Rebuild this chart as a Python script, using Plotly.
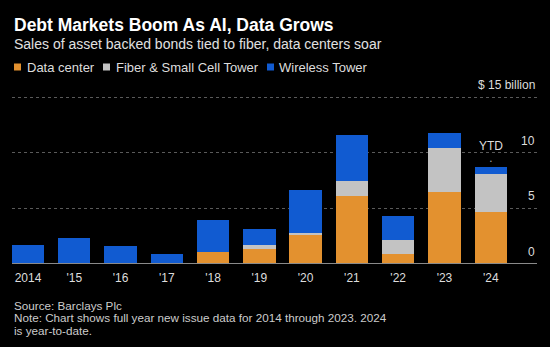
import plotly.graph_objects as go

years = ["2014", "'15", "'16", "'17", "'18", "'19", "'20", "'21", "'22", "'23", "'24"]
data_center = [0, 0, 0, 0, 1.05, 1.35, 2.58, 6.15, 0.93, 6.5, 4.65]
fiber_small_cell = [0, 0, 0, 0, 0, 0.33, 0.21, 1.35, 1.2, 3.97, 3.45]
wireless_tower = [1.71, 2.3, 1.6, 0.87, 2.95, 1.47, 3.84, 4.1, 2.22, 1.32, 0.64]
y_ticks = [0, 5, 10, 15]
y_tick_labels = ["0", "5", "10", "$ 15 billion"]
series_names = ["Data center", "Fiber & Small Cell Tower", "Wireless Tower"]

C_DC = "#e3912f"
C_FIB = "#c3c3c3"
C_WL = "#115bd1"
colors = [C_DC, C_FIB, C_WL]
FONT = "Liberation Sans, Arial, sans-serif"

W, H = 550, 347
ML, MR, MT, MB = 12, 13, 96, 83
PW, PH = W - ML - MR, H - MT - MB


def px_x(x):
    return (x - ML) / PW


def px_y(y):
    return (H - MB - y) / PH


fig = go.Figure()
for name, vals, c in zip(series_names, [data_center, fiber_small_cell, wireless_tower], colors):
    fig.add_bar(x=years, y=vals, name=name, marker_color=c, marker_line_width=0)

fig.update_layout(
    width=W, height=H,
    barmode="stack", bargap=0.3,
    paper_bgcolor="#000000", plot_bgcolor="#000000",
    margin=dict(l=ML, r=MR, t=MT, b=MB),
    showlegend=False,
    font=dict(family=FONT, color="#dddddd"),
    xaxis=dict(range=[-0.346, 11.0], showgrid=False, zeroline=False, showline=False,
               ticks="", ticklabelstandoff=5, tickfont=dict(size=12, color="#dddddd"), fixedrange=True),
    yaxis=dict(range=[0, 15.1], tickvals=y_ticks, showticklabels=False, showgrid=True,
               gridcolor="#5a5a5a", gridwidth=1, griddash="dot", zeroline=False, showline=False),
)

# baseline
fig.add_shape(type="line", xref="paper", yref="y", x0=0, x1=1, y0=0, y1=0,
              line=dict(color="#8a8a8a", width=2), layer="above")

# y tick labels above gridlines
for v, lab in zip(y_ticks, y_tick_labels):
    fig.add_annotation(xref="paper", yref="y", x=1, y=v, text=lab, showarrow=False,
                       xanchor="right", yanchor="middle", yshift=12,
                       font=dict(size=12, color="#dddddd"))

# YTD label
tot24 = data_center[-1] + fiber_small_cell[-1] + wireless_tower[-1]
fig.add_annotation(x=years[-1], y=tot24, text="YTD", showarrow=False, yanchor="middle", yshift=21,
                   font=dict(size=12, color="#dddddd"))
fig.add_annotation(x=years[-1], y=tot24, text="•", showarrow=False, yanchor="middle", yshift=6,
                   font=dict(size=5, color="#aaaaaa"))

# Title, subtitle
fig.add_annotation(xref="paper", yref="paper", x=0, y=px_y(25), text="<b>Debt Markets Boom As AI, Data Grows</b>",
                   showarrow=False, xanchor="left", yanchor="middle", font=dict(size=17.5, color="#ffffff"))
fig.add_annotation(xref="paper", yref="paper", x=0, y=px_y(43.5),
                   text="Sales of asset backed bonds tied to fiber, data centers soar",
                   showarrow=False, xanchor="left", yanchor="middle", font=dict(size=14, color="#e0e0e0"))

# Legend (custom)
sq_x = [14, 103, 267]
txt_x = [25, 114, 277]
for name, c, sx, tx in zip(series_names, colors, sq_x, txt_x):
    fig.add_shape(type="rect", xref="paper", yref="paper", x0=px_x(sx), x1=px_x(sx + 7),
                  y0=px_y(70.5), y1=px_y(63.5), fillcolor=c, line_width=0)
    fig.add_annotation(xref="paper", yref="paper", x=px_x(tx), y=px_y(67), text=name,
                       showarrow=False, xanchor="left", yanchor="middle",
                       font=dict(size=13, color="#dddddd"))

# Footer
footer_lines = ["Source: Barclays Plc",
                "Note: Chart shows full year new issue data for 2014 through 2023. 2024",
                "is year-to-date."]
for line, yy in zip(footer_lines, [305, 317.5, 330]):
    fig.add_annotation(xref="paper", yref="paper", x=0, y=px_y(yy), text=line,
                       showarrow=False, xanchor="left", yanchor="middle", align="left",
                       font=dict(size=11.7, color="#cccccc"))

fig.write_html("out.html")
